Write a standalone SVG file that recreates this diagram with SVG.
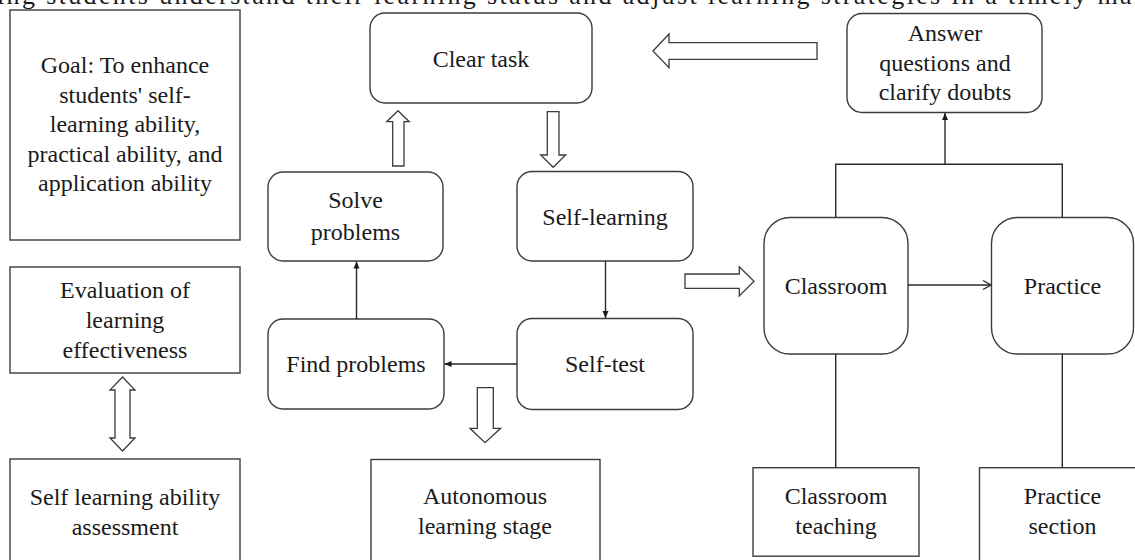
<svg xmlns="http://www.w3.org/2000/svg" width="1135" height="560" viewBox="0 0 1135 560">
<defs>
<style>
.box{fill:#fff;stroke:#3c3c3c;stroke-width:1.4}
.hol{fill:#fff;stroke:#3c3c3c;stroke-width:1.3}
.ln{fill:none;stroke:#2a2a2a;stroke-width:1.4}
text{font-family:"Liberation Serif","Times New Roman",serif;font-size:24px;fill:#1a1a1a;text-anchor:middle}
.top{font-size:26px;text-anchor:start}
</style>
<marker id="arr" markerUnits="userSpaceOnUse" markerWidth="10" markerHeight="10" refX="8" refY="5" orient="auto">
<path d="M1,2 L8,5 L1,8 Z" fill="#1a1a1a"/>
</marker>
<marker id="open" markerUnits="userSpaceOnUse" markerWidth="14" markerHeight="14" refX="12" refY="7" orient="auto">
<path d="M4,2.5 L12,7 L4,11.5" fill="none" stroke="#2a2a2a" stroke-width="1.4"/>
</marker>
</defs>
<rect width="1135" height="560" fill="#fff"/>
<text class="top" x="-3" y="4" textLength="1150" lengthAdjust="spacing">ing students understand their learning status and adjust learning strategies in a timely man</text>

<g id="goal"><rect class="box" x="10" y="10" width="230" height="230"/>
<text x="125" y="73">Goal: To enhance</text><text x="125" y="102.5">students' self-</text><text x="125" y="132">learning ability,</text><text x="125" y="161.5">practical ability, and</text><text x="125" y="191">application ability</text></g>
<g id="evaluation"><rect class="box" x="10" y="267" width="230" height="106"/>
<text x="125" y="298">Evaluation of</text><text x="125" y="328">learning</text><text x="125" y="358">effectiveness</text></g>
<g id="selfassess"><rect class="box" x="10" y="459" width="230" height="110"/>
<text x="125" y="505">Self learning ability</text><text x="125" y="535">assessment</text></g>
<g id="cleartask"><rect class="box" x="370" y="13" width="222" height="90" rx="15"/>
<text x="481" y="67">Clear task</text></g>
<g id="solve"><rect class="box" x="268" y="172" width="175" height="89" rx="15"/>
<text x="355.5" y="208">Solve</text><text x="355.5" y="240">problems</text></g>
<g id="selflearning"><rect class="box" x="517" y="171.5" width="176" height="89.5" rx="15"/>
<text x="605" y="225">Self-learning</text></g>
<g id="find"><rect class="box" x="268" y="319" width="176" height="90" rx="15"/>
<text x="356" y="372">Find problems</text></g>
<g id="selftest"><rect class="box" x="517" y="318.5" width="176" height="91" rx="15"/>
<text x="605" y="372">Self-test</text></g>
<g id="autonomous"><rect class="box" x="371" y="459.5" width="229" height="110"/>
<text x="485" y="504">Autonomous</text><text x="485" y="533.5">learning stage</text></g>
<g id="answer"><rect class="box" x="847" y="13.5" width="195" height="99" rx="15"/>
<text x="945" y="41">Answer</text><text x="945" y="71">questions and</text><text x="945" y="100">clarify doubts</text></g>
<g id="classroom"><rect class="box" x="764" y="217.5" width="144" height="136.5" rx="26"/>
<text x="836" y="293.5">Classroom</text></g>
<g id="practice"><rect class="box" x="991.5" y="217.5" width="142" height="136.5" rx="26"/>
<text x="1062.5" y="293.5">Practice</text></g>
<g id="classteach"><rect class="box" x="753" y="467.7" width="166" height="88.5"/>
<text x="836" y="504">Classroom</text><text x="836" y="533.5">teaching</text></g>
<g id="practsection"><rect class="box" x="979.5" y="467.7" width="166" height="110"/>
<text x="1062.5" y="504">Practice</text><text x="1062.5" y="533.5">section</text></g>

<g id="connectors">
<polygon class="hol" points="653,51 669,34 669,42.7 817,42.7 817,59.3 669,59.3 669,67.7"/>
<polygon class="hol" points="398,110.7 409.3,121.7 404,121.7 404,166 392.7,166 392.7,121.7 386.7,121.7"/>
<polygon class="hol" points="547.3,111.7 559,111.7 559,155 565.7,155 553.2,167.3 540.7,155 547.3,155"/>
<polygon class="hol" points="477.3,387.7 493.3,387.7 493.3,428.3 500.7,428.3 485,442.7 470,428.3 477.3,428.3"/>
<polygon class="hol" points="685,274 739.3,274 739.3,266.7 754,281.2 739.3,296 739.3,288.3 685,288.3"/>
<polygon class="hol" points="122.5,377 135,390 130,390 130,438 135,438 122.5,451 110,438 115,438 115,390 110,390"/>
<line class="ln" x1="356.5" y1="319" x2="356.5" y2="261.5" marker-end="url(#arr)"/>
<line class="ln" x1="605.5" y1="261" x2="605.5" y2="318" marker-end="url(#arr)"/>
<line class="ln" x1="517" y1="364" x2="444.5" y2="364" marker-end="url(#arr)"/>
<path class="ln" d="M835.7,217.5 V164.3 H1062.3 V217.5"/>
<line class="ln" x1="945" y1="164.3" x2="945" y2="113" marker-end="url(#arr)"/>
<line class="ln" x1="908" y1="285" x2="991" y2="285" marker-end="url(#open)"/>
<line class="ln" x1="835.7" y1="354" x2="835.7" y2="467.7"/>
<line class="ln" x1="1062.3" y1="354" x2="1062.3" y2="467.7"/>
</g>
</svg>
